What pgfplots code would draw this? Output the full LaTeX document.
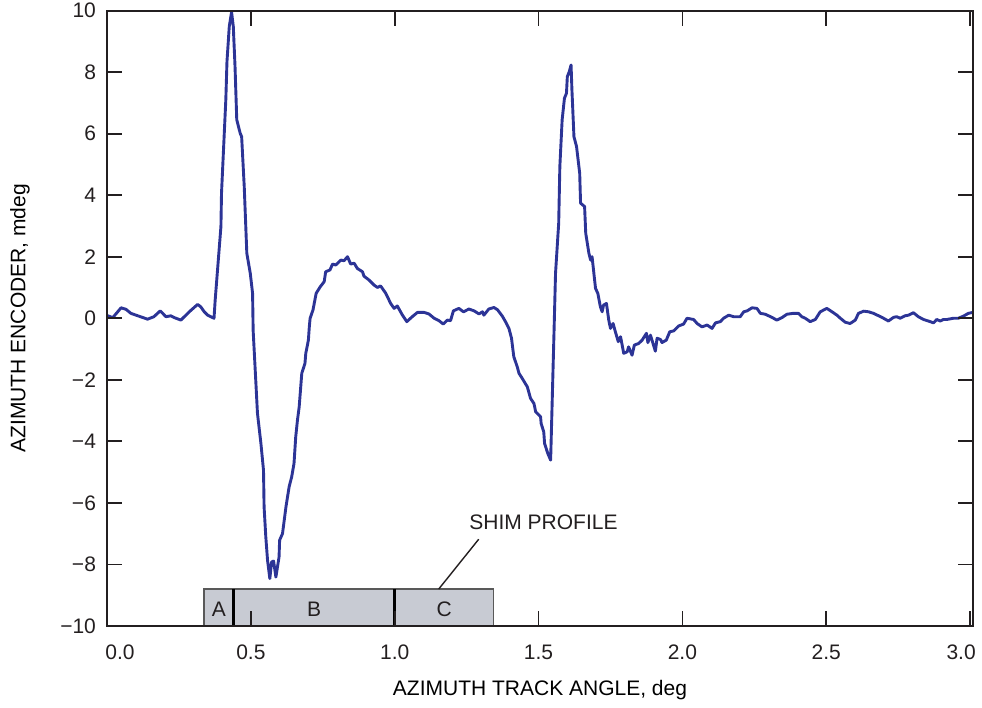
\documentclass[border=0pt]{standalone}
\usepackage{pgfplots}
\pgfplotsset{compat=1.18}
\usepackage{fontspec}
\setmainfont{Liberation Sans}
\definecolor{curve}{RGB}{44,52,150}
\definecolor{frame}{RGB}{35,31,32}
\definecolor{shim}{RGB}{200,203,211}
\begin{document}
\begin{tikzpicture}[font=\fontsize{10.5}{12.6}\selectfont]
\begin{axis}[name=ax, scale only axis, width=433pt, height=307.75pt,
  xmin=0, xmax=3.01, ymin=-10, ymax=10,
  axis on top,
  axis line style={frame, line width=1pt},
  tick style={frame, line width=0.9pt}, major tick length=7.5pt, tick align=inside,
  xtick={0,0.5,1,1.5,2,2.5,3}, ytick={-10,-8,-6,-4,-2,0,2,4,6,8,10},
  xticklabels={\kern13pt 0.0,0.5,1.0,1.5,2.0,2.5,3.0\kern9pt\relax},
  yticklabels={−10,−8,−6,−4,−2,0,2,4,6,8,10},
  tick label style={text=frame, font=\fontsize{10.5}{12.6}\selectfont},
  xticklabel style={anchor=center, yshift=-13pt},
  yticklabel style={xshift=-2pt},
  xlabel={AZIMUTH TRACK ANGLE, deg},
  ylabel={AZIMUTH ENCODER, mdeg},
  label style={text=frame, font=\fontsize{10.5}{12.6}\selectfont},
  every axis x label/.style={at={(axis description cs:0.5,-0.104)}, anchor=center},
  every axis y label/.style={at={(axis description cs:-0.1005,0.5)}, rotate=90, anchor=center},
]
\fill[shim] (axis cs:0.337,-10) rectangle (axis cs:1.344,-8.8);
\draw[black!65, line width=0.6pt] (axis cs:0.337,-10) rectangle (axis cs:1.344,-8.8);
\draw[black, line width=1.5pt] (axis cs:0.441,-10) -- (axis cs:0.441,-8.8);
\draw[black, line width=1.5pt] (axis cs:1.0,-10) -- (axis cs:1.0,-8.8);
\node[text=frame] at (axis cs:0.389,-9.45) {A};
\node[text=frame] at (axis cs:0.72,-9.45) {B};
\node[text=frame] at (axis cs:1.172,-9.45) {C};
\draw[frame, line width=0.7pt] (axis cs:1.153,-8.8) -- (axis cs:1.292,-7.18);
\node[text=frame] at (axis cs:1.517,-6.63) {SHIM PROFILE};
\addplot[curve, line width=1.45pt, line join=round] coordinates {
(0.000,0.05) (0.003,0.08) (0.020,0.02) (0.049,0.34) (0.066,0.29) (0.083,0.16)
(0.107,0.08) (0.141,-0.03) (0.163,0.05) (0.185,0.24) (0.205,0.05) (0.222,0.08)
(0.234,0.02) (0.257,-0.06) (0.286,0.21) (0.315,0.45) (0.326,0.37) (0.338,0.21)
(0.350,0.10) (0.372,0.00) (0.376,0.59) (0.396,2.98) (0.398,4.06) (0.413,7.10)
(0.417,8.34) (0.425,9.48) (0.433,9.95) (0.439,9.48) (0.445,8.18) (0.451,6.45)
(0.463,6.01) (0.468,5.90) (0.477,4.28) (0.486,2.11) (0.498,1.46) (0.506,0.81)
(0.508,-0.40) (0.517,-2.01) (0.523,-3.09) (0.535,-4.07) (0.544,-4.94) (0.546,-6.13)
(0.552,-7.11) (0.558,-7.86) (0.566,-8.46) (0.572,-7.92) (0.579,-7.89) (0.587,-8.41)
(0.598,-7.76) (0.600,-7.21) (0.610,-7.00) (0.622,-6.13) (0.633,-5.48) (0.642,-5.15)
(0.650,-4.72) (0.656,-3.85) (0.662,-3.31) (0.668,-2.88) (0.677,-1.79) (0.688,-1.47)
(0.691,-1.14) (0.700,-0.71) (0.703,-0.30) (0.706,0.00) (0.716,0.27) (0.727,0.81)
(0.741,1.02) (0.755,1.19) (0.760,1.51) (0.775,1.57) (0.784,1.76) (0.795,1.73)
(0.813,1.89) (0.824,1.87) (0.836,2.00) (0.847,1.76) (0.859,1.79) (0.870,1.62)
(0.888,1.51) (0.893,1.37) (0.911,1.24) (0.928,1.08) (0.940,1.00) (0.951,1.05)
(0.969,0.81) (0.986,0.48) (0.998,0.32) (1.009,0.40) (1.027,0.10) (1.042,-0.11)
(1.061,0.05) (1.079,0.19) (1.102,0.19) (1.119,0.14) (1.137,0.00) (1.154,-0.08)
(1.169,-0.19) (1.183,-0.06) (1.194,-0.08) (1.204,0.24) (1.223,0.32) (1.239,0.21)
(1.258,0.30) (1.276,0.24) (1.293,0.14) (1.305,0.21) (1.310,0.10) (1.327,0.30)
(1.345,0.35) (1.358,0.27) (1.374,0.07) (1.385,-0.11) (1.397,-0.33) (1.406,-0.65)
(1.411,-1.03) (1.414,-1.25) (1.426,-1.58) (1.432,-1.79) (1.443,-1.95) (1.461,-2.23)
(1.472,-2.60) (1.484,-2.77) (1.490,-3.04) (1.507,-3.20) (1.509,-3.42) (1.518,-3.69)
(1.521,-4.07) (1.532,-4.39) (1.542,-4.61) (1.553,-0.71) (1.559,1.46) (1.570,3.09)
(1.574,4.93) (1.582,6.45) (1.590,7.15) (1.597,7.31) (1.600,7.85) (1.607,8.02)
(1.613,8.23) (1.616,7.42) (1.623,5.90) (1.632,5.58) (1.643,4.71) (1.646,3.74)
(1.660,3.63) (1.664,2.76) (1.675,2.11) (1.681,1.89) (1.686,2.00) (1.698,0.97)
(1.706,0.81) (1.715,0.37) (1.721,0.21) (1.726,0.43) (1.736,0.48) (1.744,-0.06)
(1.750,-0.33) (1.759,-0.17) (1.767,-0.44) (1.777,-0.76) (1.785,-0.60) (1.796,-1.14)
(1.808,-1.09) (1.813,-0.93) (1.825,-1.20) (1.833,-0.87) (1.848,-0.82) (1.860,-0.71)
(1.875,-0.49) (1.880,-0.79) (1.889,-0.55) (1.906,-1.07) (1.912,-0.65) (1.924,-0.69)
(1.929,-0.79) (1.944,-0.71) (1.956,-0.44) (1.970,-0.41) (1.987,-0.25) (2.004,-0.19)
(2.016,0.00) (2.039,-0.04) (2.051,-0.17) (2.068,-0.28) (2.086,-0.22) (2.103,-0.33)
(2.115,-0.15) (2.132,-0.11) (2.143,0.00) (2.161,0.10) (2.178,0.05) (2.201,0.05)
(2.213,0.21) (2.225,0.24) (2.242,0.34) (2.259,0.32) (2.271,0.16) (2.288,0.13)
(2.311,0.03) (2.328,-0.06) (2.346,0.02) (2.363,0.13) (2.386,0.16) (2.403,0.16)
(2.415,0.05) (2.427,0.00) (2.444,-0.11) (2.462,-0.04) (2.479,0.21) (2.502,0.32)
(2.520,0.21) (2.537,0.10) (2.549,0.00) (2.566,-0.13) (2.583,-0.17) (2.601,-0.06)
(2.612,0.16) (2.630,0.23) (2.647,0.21) (2.664,0.16) (2.682,0.08) (2.699,0.00)
(2.716,-0.09) (2.734,0.03) (2.745,0.05) (2.757,0.00) (2.774,0.08) (2.786,0.10)
(2.803,0.18) (2.820,0.05) (2.838,-0.04) (2.861,-0.11) (2.873,-0.15) (2.884,-0.04)
(2.896,-0.09) (2.907,-0.04) (2.919,-0.04) (2.942,0.00) (2.959,0.00) (2.977,0.07)
(2.994,0.16) (3.010,0.19)
};
\end{axis}
\pgfresetboundingbox
\path ([shift={(-53.5pt,-41pt)}]ax.south west) rectangle ([shift={(4.5pt,5.25pt)}]ax.north east);
\end{tikzpicture}
\end{document}
